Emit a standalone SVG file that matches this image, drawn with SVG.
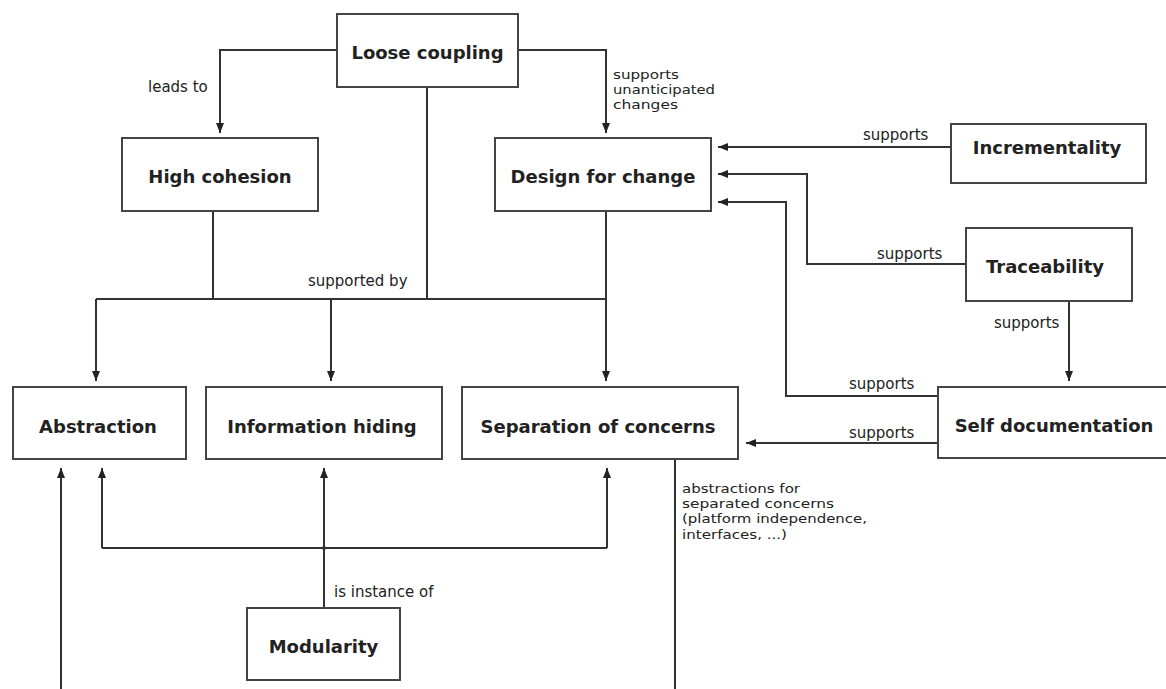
<svg xmlns="http://www.w3.org/2000/svg" width="1166" height="689" viewBox="0 0 1166 689">
<defs>
<marker id="arr" markerUnits="userSpaceOnUse" markerWidth="10" markerHeight="10" viewBox="0 0 10 10" refX="10" refY="5" orient="auto">
<path d="M0,1 L10,5 L0,9 z" fill="#222"/>
</marker>
<style>
.box{fill:#fff;stroke:#444;stroke-width:2}
.nt{font-family:"DejaVu Sans",sans-serif;font-weight:bold;font-size:18px;fill:#222;text-anchor:middle}
.lb{font-family:"DejaVu Sans",sans-serif;font-size:15px;fill:#222}
.ml{font-family:"DejaVu Sans",sans-serif;font-size:13px;fill:#222}
.c{fill:none;stroke:#333;stroke-width:2}
.a{fill:none;stroke:#333;stroke-width:2;marker-end:url(#arr)}
</style>
</defs>
<rect width="1166" height="689" fill="#fff"/>
<g id="connectors">
<path class="a" d="M337,50 H220 V133"/>
<path class="a" d="M518,50 H606 V133"/>
<path class="c" d="M427,87 V299"/>
<path class="c" d="M213,211 V299"/>
<path class="c" d="M96,299 H606"/>
<path class="a" d="M96,299 V381"/>
<path class="a" d="M331,299 V381"/>
<path class="a" d="M606,211 V381"/>
<path class="a" d="M951,147 H718"/>
<path class="a" d="M966,264 H807 V174 H718"/>
<path class="a" d="M938,396 H786 V202 H718"/>
<path class="a" d="M1069,301 V381"/>
<path class="a" d="M938,443 H746"/>
<path class="a" d="M324,608 V468"/>
<path class="c" d="M102,548 H607"/>
<path class="a" d="M102,548 V468"/>
<path class="a" d="M607,548 V468"/>
<circle cx="324" cy="548" r="2" fill="#333"/>
<path class="a" d="M61,689 V468"/>
<path class="c" d="M675,459 V689"/>
<text class="lb" x="148" y="92">leads to</text>
<text class="ml" x="613" y="79" textLength="66" lengthAdjust="spacingAndGlyphs">supports</text>
<text class="ml" x="613" y="94.2" textLength="102" lengthAdjust="spacingAndGlyphs">unanticipated</text>
<text class="ml" x="613" y="109.4" textLength="65" lengthAdjust="spacingAndGlyphs">changes</text>
<text class="lb" x="863" y="140">supports</text>
<text class="lb" x="877" y="259">supports</text>
<text class="lb" x="994" y="328">supports</text>
<text class="lb" x="849" y="389">supports</text>
<text class="lb" x="849" y="438">supports</text>
<text class="lb" x="308" y="286">supported by</text>
<text class="lb" x="334" y="597">is instance of</text>
<text class="ml" x="682" y="493" textLength="118" lengthAdjust="spacingAndGlyphs">abstractions for</text>
<text class="ml" x="682" y="508.2" textLength="152" lengthAdjust="spacingAndGlyphs">separated concerns</text>
<text class="ml" x="682" y="523.4" textLength="185" lengthAdjust="spacingAndGlyphs">(platform independence,</text>
<text class="ml" x="682" y="538.6" textLength="105" lengthAdjust="spacingAndGlyphs">interfaces, ...)</text>
</g>
<g id="loose-coupling"><rect class="box" x="337" y="14" width="181" height="73"/><text class="nt" x="427.5" y="59">Loose coupling</text></g>
<g id="high-cohesion"><rect class="box" x="122" y="138" width="196" height="73"/><text class="nt" x="220" y="183">High cohesion</text></g>
<g id="design-for-change"><rect class="box" x="495" y="138" width="216" height="73"/><text class="nt" x="603" y="183">Design for change</text></g>
<g id="incrementality"><rect class="box" x="951" y="124" width="195" height="59"/><text class="nt" x="1047" y="154">Incrementality</text></g>
<g id="traceability"><rect class="box" x="966" y="228" width="166" height="73"/><text class="nt" x="1045" y="273">Traceability</text></g>
<g id="self-documentation"><rect class="box" x="938" y="387" width="240" height="71"/><text class="nt" x="1054" y="432">Self documentation</text></g>
<g id="abstraction"><rect class="box" x="13" y="387" width="173" height="72"/><text class="nt" x="98" y="433">Abstraction</text></g>
<g id="information-hiding"><rect class="box" x="206" y="387" width="236" height="72"/><text class="nt" x="322" y="433">Information hiding</text></g>
<g id="separation-of-concerns"><rect class="box" x="462" y="387" width="276" height="72"/><text class="nt" x="598" y="433">Separation of concerns</text></g>
<g id="modularity"><rect class="box" x="247" y="608" width="153" height="72"/><text class="nt" x="323.5" y="653">Modularity</text></g>
</svg>
